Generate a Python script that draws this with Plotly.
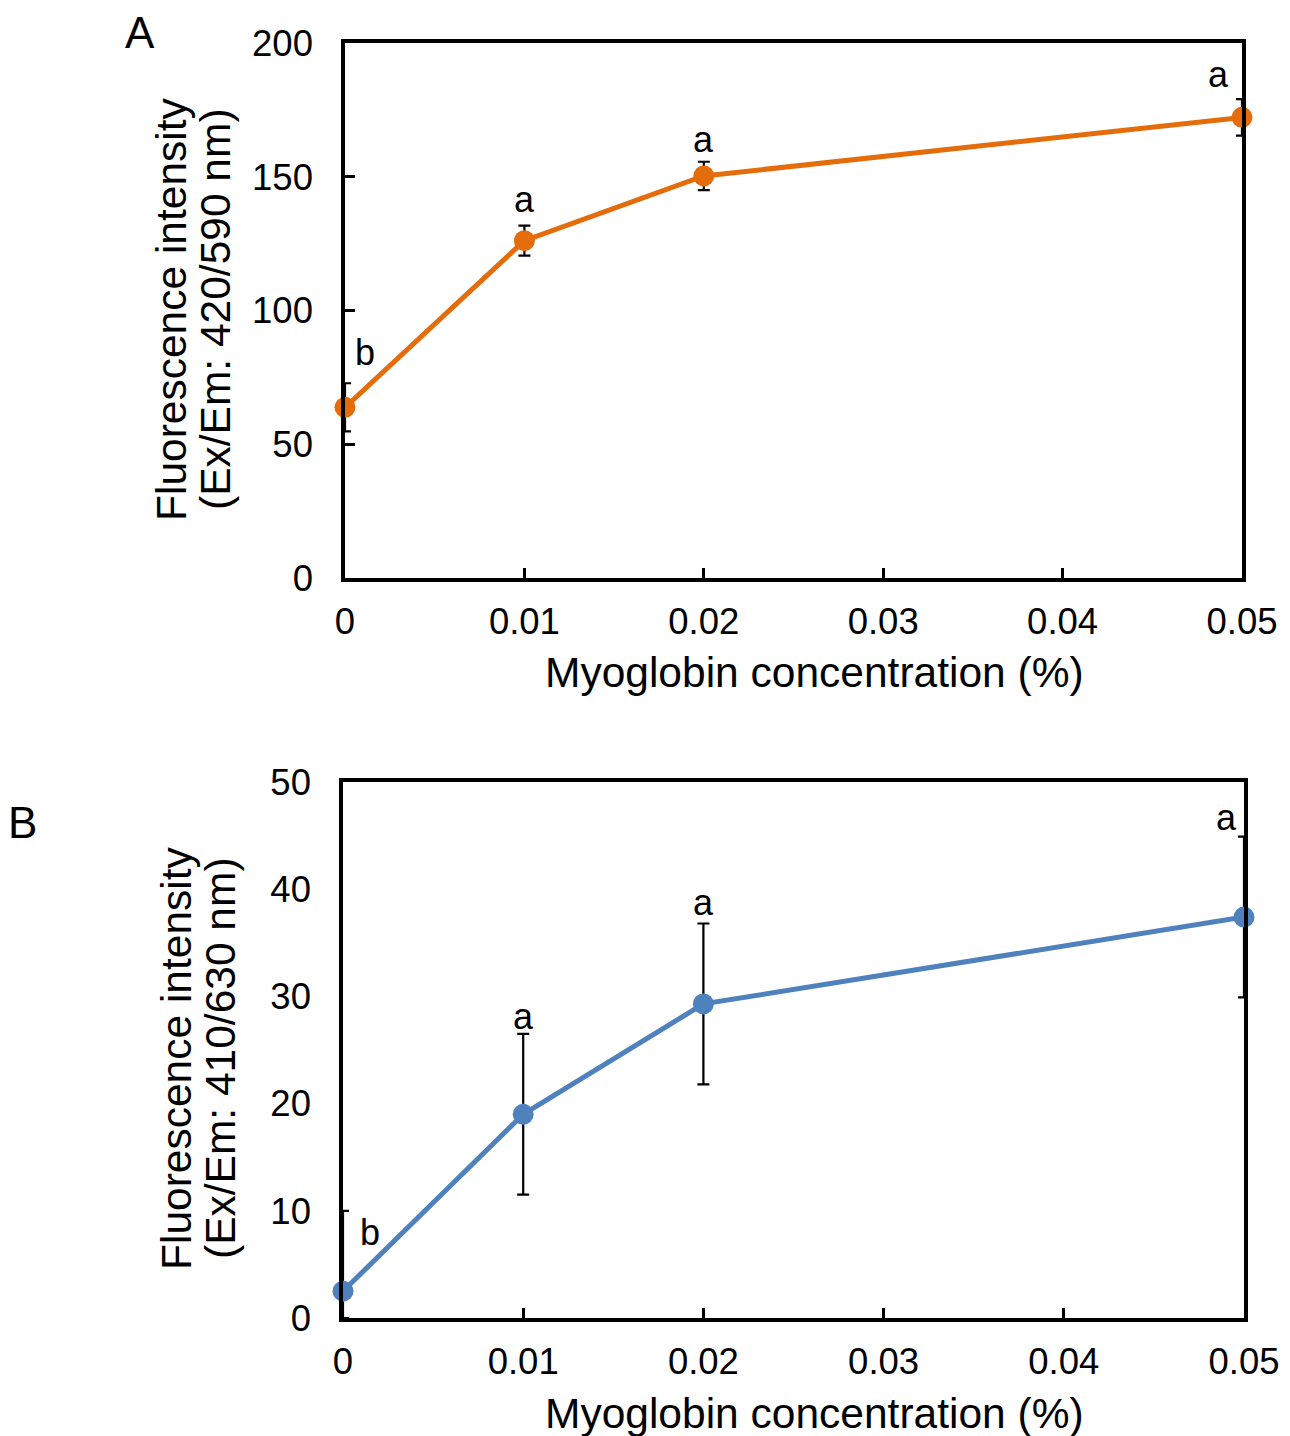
import plotly.graph_objects as go

# ---------------- data ----------------
conc = [0, 0.01, 0.02, 0.05]
fl_590 = [63.8, 126.1, 150.3, 172.2]
err_590 = [9.0, 5.6, 5.3, 6.8]
letters_590 = ["b", "a", "a", "a"]

fl_630 = [2.5, 19.0, 29.3, 37.4]
err_630 = [7.5, 7.5, 7.5, 7.5]
letters_630 = ["b", "a", "a", "a"]

x_ticks = [0, 0.01, 0.02, 0.03, 0.04, 0.05]
x_ticktext = ["0", "0.01", "0.02", "0.03", "0.04", "0.05"]
yA_ticks = [0, 50, 100, 150, 200]
yB_ticks = [0, 10, 20, 30, 40, 50]

x_title = "Myoglobin concentration (%)"
yA_title = ["Fluorescence intensity", "(Ex/Em: 420/590 nm)"]
yB_title = ["Fluorescence intensity", "(Ex/Em: 410/630 nm)"]

# ---------------- style ----------------
W, H = 1290, 1436
FONT = "Arial, Liberation Sans, sans-serif"
ORANGE = "#E46C0A"
BLUE = "#4F81BD"

# letter offsets (pixels) relative to top of the error bar
shiftA = [(20, 31), (0, 26), (0, 22), (-24, 25)]
shiftB = [(27, -22), (0, 17), (0, 21), (-18, 19)]


def px(x):
    return x / W


def py(y):
    return 1 - y / H


fig = go.Figure()


def add_panel(vals, errs, color, xa, ya, ymin):
    err_minus = [min(e, v - ymin) for v, e in zip(vals, errs)]
    fig.add_trace(go.Scatter(
        x=conc, y=vals, mode="lines+markers",
        line=dict(color=color, width=5),
        marker=dict(color=color, size=21),
        error_y=dict(type="data", symmetric=False, array=errs,
                     arrayminus=err_minus, color="black",
                     thickness=2.2, width=6),
        cliponaxis=False, showlegend=False,
        xaxis=xa, yaxis=ya,
    ))


add_panel(fl_590, err_590, ORANGE, "x", "y", 0)
add_panel(fl_630, err_630, BLUE, "x2", "y2", 0)

axis_common = dict(showline=True, linecolor="black", linewidth=3.5, mirror=True,
                   showgrid=False, zeroline=False,
                   tickfont=dict(family=FONT, size=36.5, color="black"),
                   automargin=False)

fig.update_layout(
    width=W, height=H,
    paper_bgcolor="white", plot_bgcolor="white",
    margin=dict(l=0, r=0, t=0, b=0),
    xaxis=dict(domain=[px(345), px(1242)], range=[0, 0.05], anchor="y",
               tickvals=x_ticks, ticktext=x_ticktext,
               ticks="inside", ticklen=10, tickwidth=3, tickcolor="black",
               ticklabelstandoff=8, **axis_common),
    yaxis=dict(domain=[py(578), py(43)], range=[0, 200], anchor="x",
               tickvals=yA_ticks,
               ticks="inside", ticklen=10, tickwidth=3, tickcolor="black",
               ticklabelstandoff=21, **axis_common),
    xaxis2=dict(domain=[px(343), px(1244)], range=[0, 0.05], anchor="y2",
                tickvals=x_ticks, ticktext=x_ticktext,
                ticks="inside", ticklen=10, tickwidth=3, tickcolor="black",
                ticklabelstandoff=8, **axis_common),
    yaxis2=dict(domain=[py(1318), py(782)], range=[0, 50], anchor="x2",
                tickvals=yB_ticks, ticks="",
                ticklabelstandoff=21, **axis_common),
)

annots = []
# significance letters
for xs, ys, es, ls, sh, xr, yr in [
    (conc, fl_590, err_590, letters_590, shiftA, "x", "y"),
    (conc, fl_630, err_630, letters_630, shiftB, "x2", "y2"),
]:
    for xv, yv, ev, lt, (dx, dy) in zip(xs, ys, es, ls, sh):
        annots.append(dict(x=xv, y=yv + ev, xref=xr, yref=yr, text=lt,
                           showarrow=False, xanchor="center", yanchor="middle",
                           xshift=dx, yshift=dy,
                           font=dict(family=FONT, size=36, color="black")))

# axis titles
for yc in [672, 1413]:
    annots.append(dict(x=px(814), y=py(yc), xref="paper", yref="paper",
                       text=x_title, showarrow=False, xanchor="center",
                       yanchor="middle",
                       font=dict(family=FONT, size=42.5, color="black")))
for title, yc, xs in [(yA_title, 309, (172, 216)), (yB_title, 1058, (176, 220))]:
    for line, xc in zip(title, xs):
        annots.append(dict(x=px(xc), y=py(yc), xref="paper", yref="paper",
                           text=line, textangle=-90, showarrow=False,
                           xanchor="center", yanchor="middle",
                           font=dict(family=FONT, size=42.5, color="black")))

# panel labels
for lab, xc, yc in [("A", 140, 33), ("B", 22, 822)]:
    annots.append(dict(x=px(xc), y=py(yc), xref="paper", yref="paper",
                       text=lab, showarrow=False, xanchor="center",
                       yanchor="middle",
                       font=dict(family=FONT, size=44, color="black")))

fig.update_layout(annotations=annots)
fig.write_html("out.html",
               config={"displayModeBar": False},
               post_script="document.body.style.margin='0';"
                           "document.body.style.overflow='hidden';")
